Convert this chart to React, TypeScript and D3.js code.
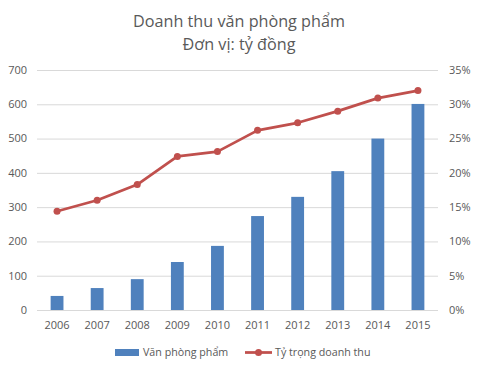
import React from "react";
import * as d3 from "d3";

const years = ["2006", "2007", "2008", "2009", "2010", "2011", "2012", "2013", "2014", "2015"];
const revenue = [41, 64, 90, 140, 187, 274, 330, 405, 500, 601];
const share = [14.4, 16.0, 18.3, 22.4, 23.1, 26.2, 27.3, 29.0, 30.9, 32.0];
const leftTicks = [0, 100, 200, 300, 400, 500, 600, 700];
const rightTicks = [0, 5, 10, 15, 20, 25, 30, 35];
const titleLines = ["Doanh thu văn phòng phẩm", "Đơn vị: tỷ đồng"];
const seriesNames = ["Văn phòng phẩm", "Tỷ trọng doanh thu"];

const W = 478, H = 371;
const left = 37, right = 438, top = 70, bottom = 310;
const BLUE = "#4F81BD", RED = "#C0504D", TXT = "#595959", GRID = "#D9D9D9";
const FONT = "'Open Sans', 'Noto Sans', sans-serif";

export default function App() {
  const x = d3.scaleBand().domain(years).range([left, right]).paddingInner(0.68).paddingOuter(0.34);
  const y = d3.scaleLinear().domain([0, 700]).range([bottom, top]);
  const y2 = d3.scaleLinear().domain([0, 35]).range([bottom, top]);
  const cx = (yr: string) => (x(yr) as number) + x.bandwidth() / 2;
  const line = d3.line<number>().x((_, i) => cx(years[i])).y((d) => y2(d));

  return (
    <svg width={W} height={H} style={{ position: "absolute", left: 0, top: 0, background: "#fff" }} fontFamily={FONT}>
      <rect width={W} height={H} fill="#fff" />
      {titleLines.map((t, i) => (
        <text key={i} x={239} y={27 + i * 23} textAnchor="middle" fontSize={16.2} fill={TXT}>{t}</text>
      ))}
      {leftTicks.map((t) => (
        <line key={t} x1={left} x2={right} y1={y(t) + 0.5} y2={y(t) + 0.5} stroke={GRID} strokeWidth={1} />
      ))}
      {leftTicks.map((t) => (
        <text key={t} x={27} y={y(t)} dy="0.35em" textAnchor="end" fontSize={11} fill={TXT}>{t}</text>
      ))}
      {rightTicks.map((t) => (
        <text key={t} x={449} y={y2(t)} dy="0.35em" textAnchor="start" fontSize={11} fill={TXT}>{t}%</text>
      ))}
      {years.map((yr) => (
        <text key={yr} x={cx(yr)} y={325} dy="0.35em" textAnchor="middle" fontSize={11} fill={TXT}>{yr}</text>
      ))}
      {revenue.map((v, i) => (
        <rect key={i} x={x(years[i])} y={y(v)} width={x.bandwidth()} height={y(0) - y(v)} fill={BLUE} />
      ))}
      <path d={line(share) || ""} fill="none" stroke={RED} strokeWidth={2.75} strokeLinejoin="round" />
      {share.map((v, i) => (
        <circle key={i} cx={cx(years[i])} cy={y2(v)} r={3.5} fill={RED} />
      ))}
      <g>
        <rect x={115} y={349} width={24} height={7} fill={BLUE} />
        <text x={143} y={352.5} dy="0.35em" fontSize={10.7} fill={TXT}>{seriesNames[0]}</text>
        <line x1={245} x2={272} y1={352.5} y2={352.5} stroke={RED} strokeWidth={2.75} />
        <circle cx={258.5} cy={352.5} r={3.5} fill={RED} />
        <text x={275} y={352.5} dy="0.35em" fontSize={10.7} fill={TXT}>{seriesNames[1]}</text>
      </g>
    </svg>
  );
}
